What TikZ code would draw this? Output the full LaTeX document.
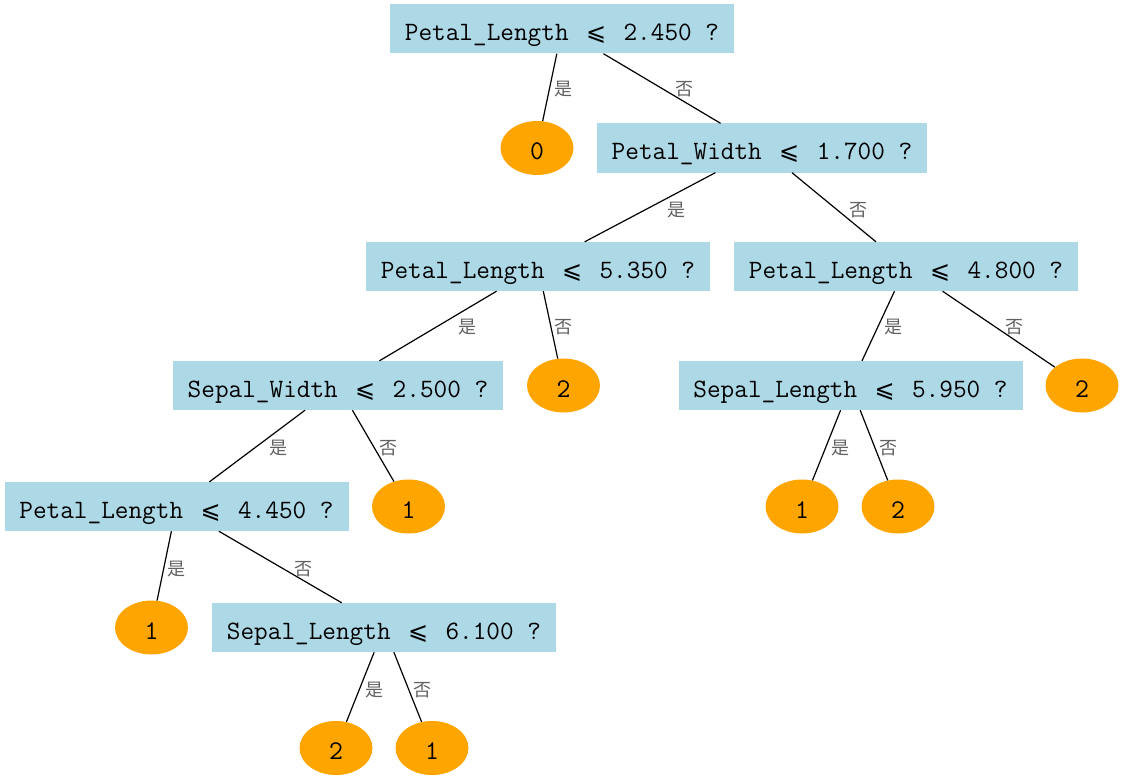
\documentclass[tikz,border=0pt]{standalone}
\usepackage{fontspec}
\usetikzlibrary{shapes.geometric}
\newfontfamily\cjkfont{Noto Sans CJK SC}
\newfontfamily\symfont{DejaVu Sans}
\newcommand\lesym{\makebox[27.6pt]{\symfont\fontsize{24}{24}\selectfont ⩽}}
\begin{document}
\begin{tikzpicture}[x=1pt,y=-1pt,
  cond/.style={rectangle, fill={rgb,255:red,173;green,216;blue,230}, inner xsep=0pt, inner ysep=0pt,
     minimum width=344pt, minimum height=49pt, text height=24pt, text depth=0pt,
     font=\ttfamily\fontsize{26.5}{26.5}\selectfont},
  condn/.style={cond, minimum width=330pt},
  leaf/.style={ellipse, fill={rgb,255:red,255;green,165;blue,0}, minimum width=73pt, minimum height=54pt,
     inner sep=0pt, text height=23pt, text depth=0pt, font=\ttfamily\fontsize{27}{27}\selectfont},
  lbl/.style={font=\cjkfont\fontsize{18}{18}\selectfont, text=black!62, inner sep=0pt},
  conn/.style={line width=1.2pt, black}]
\useasboundingbox[fill=white] (0,0) rectangle (1124,781);

\node[cond] (n0) at (562,29) {Petal\_Length \lesym{} 2.450 ?};
\node[leaf] (l0) at (537,148) {0};
\node[condn] (n1) at (762,148) {Petal\_Width \lesym{} 1.700 ?};
\node[cond] (n2) at (538,266.5) {Petal\_Length \lesym{} 5.350 ?};
\node[cond] (n3) at (906,266.5) {Petal\_Length \lesym{} 4.800 ?};
\node[condn] (n4) at (338,385.5) {Sepal\_Width \lesym{} 2.500 ?};
\node[leaf] (l1) at (563.5,385.5) {2};
\node[cond] (n5) at (850.5,385.5) {Sepal\_Length \lesym{} 5.950 ?};
\node[leaf] (l2) at (1082,385.5) {2};
\node[cond] (n6) at (176.5,506.5) {Petal\_Length \lesym{} 4.450 ?};
\node[leaf] (l3) at (408.5,506.5) {1};
\node[leaf] (l4) at (802,506.5) {1};
\node[leaf] (l5) at (898,506.5) {2};
\node[leaf] (l6) at (151.5,627.5) {1};
\node[cond] (n7) at (384,627.5) {Sepal\_Length \lesym{} 6.100 ?};
\node[leaf] (l7) at (336,748) {2};
\node[leaf] (l8) at (432,748) {1};

\draw[conn] (n0) -- (l0);
\draw[conn] (n0) -- (n1);
\draw[conn] (n1) -- (n2);
\draw[conn] (n1) -- (n3);
\draw[conn] (n2) -- (n4);
\draw[conn] (n2) -- (l1);
\draw[conn] (n3) -- (n5);
\draw[conn] (n3) -- (l2);
\draw[conn] (n4) -- (n6);
\draw[conn] (n4) -- (l3);
\draw[conn] (n5) -- (l4);
\draw[conn] (n5) -- (l5);
\draw[conn] (n6) -- (l6);
\draw[conn] (n6) -- (n7);
\draw[conn] (n7) -- (l7);
\draw[conn] (n7) -- (l8);

\node[lbl] (e1) at (563,89) {是};
\node[lbl] (e2) at (684,89) {否};
\node[lbl] (e3) at (676,210) {是};
\node[lbl] (e4) at (858,210) {否};
\node[lbl] (e5) at (467,327) {是};
\node[lbl] (e6) at (563,327) {否};
\node[lbl] (e7) at (893,327) {是};
\node[lbl] (e8) at (1014,327) {否};
\node[lbl] (e9) at (278,448) {是};
\node[lbl] (e10) at (388,448) {否};
\node[lbl] (e11) at (840,448) {是};
\node[lbl] (e12) at (888,448) {否};
\node[lbl] (e13) at (176,569) {是};
\node[lbl] (e14) at (303,569) {否};
\node[lbl] (e15) at (374,690) {是};
\node[lbl] (e16) at (422,690) {否};
\end{tikzpicture}
\end{document}
